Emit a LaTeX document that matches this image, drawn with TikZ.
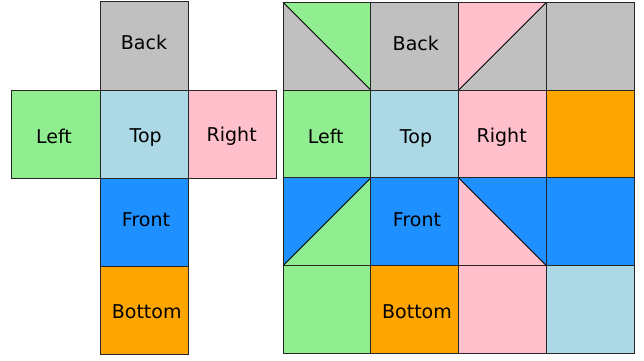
\documentclass[tikz,border=0pt]{standalone}
\usepackage{fontspec}
\setmainfont{DejaVu Sans}
\definecolor{cgray}{HTML}{C0C0C0}
\definecolor{cgreen}{HTML}{90EE90}
\definecolor{cblue}{HTML}{ADD8E6}
\definecolor{cpink}{HTML}{FFC0CB}
\definecolor{cdblue}{HTML}{1E90FF}
\definecolor{corange}{HTML}{FFA500}
\begin{document}
\begin{tikzpicture}[x=1pt,y=-1pt,
  cell/.style={draw=black!85,line width=1pt},
  diag/.style={draw=black,line width=0.9pt},
  lab/.style={anchor=base,inner sep=0pt,font=\fontsize{19}{23}\selectfont}]
\useasboundingbox (0,0) rectangle (644,360);
% ---- left net ----
\def\s{88.3}
\begin{scope}[shift={(11.7,1.7)}]
  \fill[cgray]   (\s,0) rectangle ++(\s,\s);
  \fill[cgreen]  (0,\s) rectangle ++(\s,\s);
  \fill[cblue]   (\s,\s) rectangle ++(\s,\s);
  \fill[cpink]   (2*\s,\s) rectangle ++(\s,\s);
  \fill[cdblue]  (\s,2*\s) rectangle ++(\s,\s);
  \fill[corange] (\s,3*\s) rectangle ++(\s,\s);
  \draw[cell] (\s,0) rectangle ++(\s,\s);
  \draw[cell] (0,\s) rectangle ++(\s,\s);
  \draw[cell] (\s,\s) rectangle ++(\s,\s);
  \draw[cell] (2*\s,\s) rectangle ++(\s,\s);
  \draw[cell] (\s,2*\s) rectangle ++(\s,\s);
  \draw[cell] (\s,3*\s) rectangle ++(\s,\s);
\end{scope}
\node[lab] (lback)   at (144,49.3)  {Back};
\node[lab] (lleft)   at (54,143)    {Left};
\node[lab] (ltop)    at (145.7,142.7) {Top};
\node[lab] (lright)  at (231.7,141.8) {Right};
\node[lab] (lfront)  at (146,226)   {Front};
\node[lab] (lbottom) at (146.7,318.3) {Bottom};
% ---- right grid ----
\def\t{87.8}
\begin{scope}[shift={(283,2.3)}]
  % row 0
  \fill[cgray] (0,0) rectangle (4*\t,\t);
  \fill[cgreen] (0,0) -- (\t,0) -- (\t,\t) -- cycle;
  \fill[cpink] (2*\t,0) -- (3*\t,0) -- (2*\t,\t) -- cycle;
  % row 1
  \fill[cgreen]  (0,\t) rectangle ++(\t,\t);
  \fill[cblue]   (\t,\t) rectangle ++(\t,\t);
  \fill[cpink]   (2*\t,\t) rectangle ++(\t,\t);
  \fill[corange] (3*\t,\t) rectangle ++(\t,\t);
  % row 2
  \fill[cdblue] (0,2*\t) rectangle (4*\t,3*\t);
  \fill[cgreen] (\t,2*\t) -- (\t,3*\t) -- (0,3*\t) -- cycle;
  \fill[cpink] (2*\t,2*\t) -- (3*\t,3*\t) -- (2*\t,3*\t) -- cycle;
  % row 3
  \fill[cgreen]  (0,3*\t) rectangle ++(\t,\t);
  \fill[corange] (\t,3*\t) rectangle ++(\t,\t);
  \fill[cpink]   (2*\t,3*\t) rectangle ++(\t,\t);
  \fill[cblue]   (3*\t,3*\t) rectangle ++(\t,\t);
  % diagonals
  \draw[diag] (0,0) -- (\t,\t);
  \draw[diag] (2*\t,\t) -- (3*\t,0);
  \draw[diag] (0,3*\t) -- (\t,2*\t);
  \draw[diag] (2*\t,2*\t) -- (3*\t,3*\t);
  % grid
  \foreach \i in {0,1,2,3} \foreach \j in {0,1,2,3}
    \draw[cell] (\i*\t,\j*\t) rectangle ++(\t,\t);
\end{scope}
\node[lab] (rback)   at (415.8,50)  {Back};
\node[lab] (rleft)   at (325.7,143.3) {Left};
\node[lab] (rtop)    at (416,143)   {Top};
\node[lab] (rright)  at (501.7,142) {Right};
\node[lab] (rfront)  at (417,226)   {Front};
\node[lab] (rbottom) at (417,318.3) {Bottom};
\end{tikzpicture}
\end{document}
